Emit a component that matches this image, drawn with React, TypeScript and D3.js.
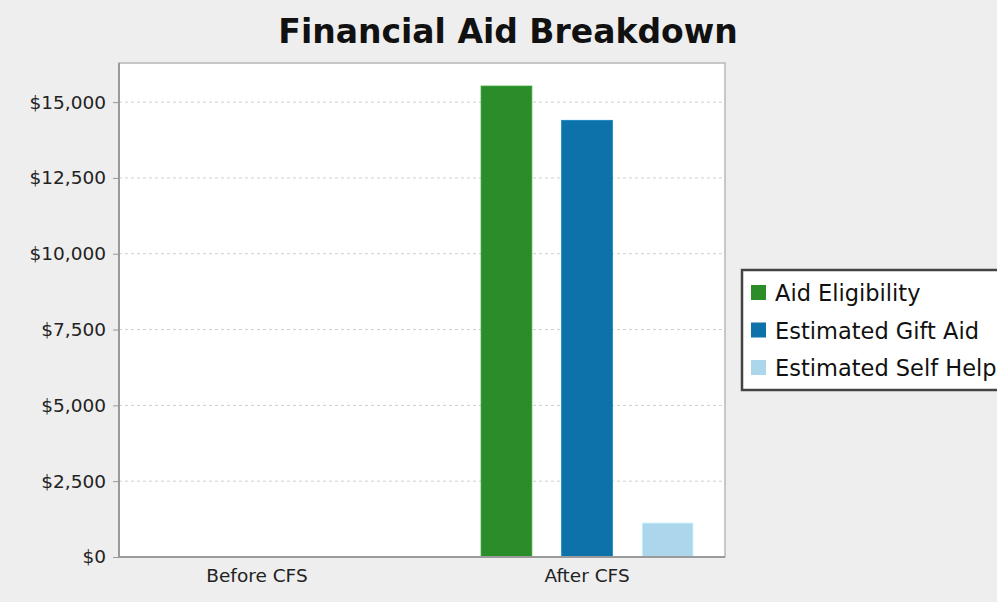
import React, { useEffect, useRef } from "react";
import * as d3 from "d3";

const categories = ["Before CFS", "After CFS"];
const seriesNames = ["Aid Eligibility", "Estimated Gift Aid", "Estimated Self Help"];
const aidEligibility = [0, 15530];
const estimatedGiftAid = [0, 14400];
const estimatedSelfHelp = [0, 1120];
const tickValues = [0, 2500, 5000, 7500, 10000, 12500, 15000];
const yMax = 16290;
const colors = ["#2a8d2a", "#0d72aa", "#acd6ec"];

const W = 997;
const H = 602;
const plot = { left: 119, right: 725, top: 63, bottom: 557 };

export default function App() {
  const ref = useRef<SVGSVGElement | null>(null);

  useEffect(() => {
    const svg = d3.select(ref.current);
    svg.selectAll("*").remove();

    svg.append("rect").attr("width", W).attr("height", H).attr("fill", "#eeeeee");

    const x0 = d3.scaleBand<string>().domain(categories).range([plot.left, plot.right]).paddingInner(0.358).paddingOuter(0.097);
    const x1 = d3.scaleBand<string>().domain(seriesNames).range([0, x0.bandwidth()]).paddingInner(0.37).paddingOuter(0);
    const y = d3.scaleLinear().domain([0, yMax]).range([plot.bottom, plot.top]);

    // plot background
    svg.append("rect")
      .attr("x", plot.left).attr("y", plot.top)
      .attr("width", plot.right - plot.left).attr("height", plot.bottom - plot.top)
      .attr("fill", "#ffffff").attr("stroke", "#b8b8b8").attr("stroke-width", 1.5);

    // gridlines
    svg.append("g").selectAll("line")
      .data(tickValues.filter((t) => t > 0))
      .join("line")
      .attr("x1", plot.left).attr("x2", plot.right)
      .attr("y1", (d) => y(d)).attr("y2", (d) => y(d))
      .attr("stroke", "#cfcfcf").attr("stroke-width", 1).attr("stroke-dasharray", "3,3");

    const seriesValues = [aidEligibility, estimatedGiftAid, estimatedSelfHelp];
    const bars = categories.flatMap((c, ci) =>
      seriesNames.map((s, si) => ({ c, s, si, v: seriesValues[si][ci] }))
    );
    svg.append("g").selectAll("rect")
      .data(bars.filter((b) => b.v > 0))
      .join("rect")
      .attr("x", (d) => (x0(d.c) as number) + (x1(d.s) as number))
      .attr("width", x1.bandwidth())
      .attr("y", (d) => y(d.v))
      .attr("height", (d) => y(0) - y(d.v))
      .attr("fill", (d) => colors[d.si])
      .attr("stroke", (d) => d3.color(colors[d.si])!.brighter(0.4).toString())
      .attr("stroke-width", 0.8);

    // y axis
    const yAxis = d3.axisLeft(y).tickValues(tickValues)
      .tickFormat((d) => "$" + d3.format(",")(d as number))
      .tickSize(6).tickPadding(7);
    const gy = svg.append("g").attr("transform", `translate(${plot.left},0)`).call(yAxis);
    gy.select(".domain").attr("stroke", "#9a9a9a").attr("stroke-width", 2)
      .attr("d", `M0,${plot.top}V${plot.bottom}`);
    gy.selectAll(".tick line").attr("stroke", "#9a9a9a");
    gy.selectAll(".tick text").attr("fill", "#222222")
      .style("font-family", "DejaVu Sans").style("font-size", "18.5px");

    // x axis
    const xAxis = d3.axisBottom(x0).tickSize(0).tickPadding(12);
    const gx = svg.append("g").attr("transform", `translate(0,${plot.bottom})`).call(xAxis);
    gx.select(".domain").attr("stroke", "#9a9a9a").attr("stroke-width", 2)
      .attr("d", `M${plot.left},0H${plot.right}`);
    gx.selectAll(".tick text").attr("fill", "#222222")
      .style("font-family", "DejaVu Sans").style("font-size", "18.5px");

    // title
    svg.append("text").attr("x", 508).attr("y", 43).attr("text-anchor", "middle")
      .style("font-family", "DejaVu Sans").style("font-weight", "bold").style("font-size", "33px")
      .attr("fill", "#111111").text("Financial Aid Breakdown");

    // legend
    const lg = svg.append("g");
    lg.append("rect").attr("x", 742).attr("y", 270).attr("width", 270).attr("height", 120)
      .attr("fill", "#ffffff").attr("stroke", "#444444").attr("stroke-width", 2.5);
    const rows = lg.selectAll("g.row").data(seriesNames).join("g").attr("class", "row")
      .attr("transform", (_d, i) => `translate(0,${293 + i * 37.5})`);
    rows.append("rect").attr("x", 751).attr("y", -8).attr("width", 15).attr("height", 15)
      .attr("fill", (_d, i) => colors[i]);
    rows.append("text").attr("x", 775).attr("y", 8)
      .style("font-family", "DejaVu Sans").style("font-size", "22.5px").attr("fill", "#111111")
      .text((d) => d);
  }, []);

  return (
    <svg ref={ref} width={W} height={H} style={{ position: "absolute", left: 0, top: 0 }} />
  );
}
